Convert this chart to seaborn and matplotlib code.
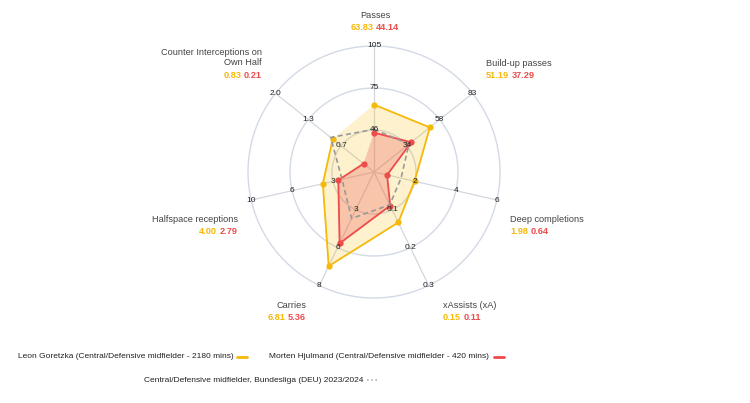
import numpy as np
import matplotlib
matplotlib.use('Agg')
import matplotlib.pyplot as plt
import seaborn as sns
from matplotlib.offsetbox import TextArea, HPacker, AnnotationBbox

# data
metrics = ['Passes', 'Build-up passes', 'Deep completions', 'xAssists (xA)',
           'Carries', 'Halfspace receptions', 'Counter Interceptions on\nOwn Half']
goretzka = [63.83, 51.19, 1.98, 0.15, 6.81, 4.00, 0.83]
hjulmand = [44.14, 37.29, 0.64, 0.11, 5.36, 2.79, 0.21]
league_avg = [46.5, 35.6, 1.32, 0.108, 3.77, 2.5, 0.87]
axis_min = [16.5, 9.5, 0.0, 0.03, 0.8, 0.0, 0.0]
axis_max = [105, 83, 6.0, 0.30, 8.05, 9.6, 1.98]
ring_labels = [['46', '75', '105'], ['34', '58', '83'], ['2', '4', '6'],
               ['0.1', '0.2', '0.3'], ['3', '6', '8'], ['3', '6', '10'],
               ['0.7', '1.3', '2.0']]
legend_labels = ['Leon Goretzka (Central/Defensive midfielder - 2180 mins)',
                 'Morten Hjulmand (Central/Defensive midfielder - 420 mins)',
                 'Central/Defensive midfielder, Bundesliga (DEU) 2023/2024']

# label layout in pixels from top-left: (x, name y, values y, alignment)
label_pos = [(375, 15, 27, 'center'), (486, 63, 75, 'left'),
             (510, 219, 231, 'left'), (443, 306, 318, 'left'),
             (306, 306, 318, 'right'), (238, 219, 231, 'right'),
             (262, 57.5, 75, 'right')]

YELLOW = '#F5B90A'
RED = '#EE4B4B'
GREY = '#999999'
W, H = 750, 403

sns.set_theme(style='white')
plt.rcParams['font.family'] = ['Liberation Sans', 'DejaVu Sans']

n = len(metrics)
theta = np.arange(n) * 2 * np.pi / n


def scale(vals):
    v = np.array(vals, dtype=float)
    return (v - np.array(axis_min)) / (np.array(axis_max) - np.array(axis_min))


def closed(a):
    return np.append(a, a[0])


# radar centre (374, 172) px, outer ring radius 126 px
cx, cy, R, rmax = 374, 172, 126, 1.03
half = R * rmax
fig = plt.figure(figsize=(7.5, 4.03), dpi=100)
ax = fig.add_axes([(cx - half) / W, (H - cy - half) / H, 2 * half / W, 2 * half / H],
                  projection='polar')
ax.set_theta_offset(np.pi / 2)
ax.set_theta_direction(-1)
ax.set_ylim(0, rmax)
ax.axis('off')

# grid: rings and spokes
tt = np.linspace(0, 2 * np.pi, 300)
for r in [1 / 3, 2 / 3, 1]:
    ax.plot(tt, np.full_like(tt, r), color='#d3dae5', lw=1.0, zorder=1)
for t in theta:
    ax.plot([t, t], [0, 1], color='#d3d7dd', lw=0.9, zorder=1)

# series
th = closed(theta)
g = closed(scale(goretzka))
h = closed(scale(hjulmand))
a = closed(scale(league_avg))
ax.fill(th, g, color=YELLOW, alpha=0.2, lw=0, zorder=2)
sns.lineplot(x=th, y=g, ax=ax, sort=False, color=YELLOW, lw=1.3,
             marker='o', markersize=4.5, markeredgewidth=0, zorder=4)
ax.fill(th, h, color=RED, alpha=0.27, lw=0, zorder=3)
sns.lineplot(x=th, y=h, ax=ax, sort=False, color=RED, lw=1.3,
             marker='o', markersize=4.5, markeredgewidth=0, zorder=5)
ax.plot(th, a, color=GREY, lw=1.2, ls=(0, (3, 2)), zorder=6)

# ring tick labels
for i, t in enumerate(theta):
    for k, lab in enumerate(ring_labels[i]):
        ax.text(t, (k + 1) / 3, lab, ha='center', va='center',
                fontsize=6, color='#222222', zorder=8)

# overlay axes in pixel units for labels and legend
ov = fig.add_axes([0, 0, 1, 1], facecolor='none')
ov.set_xlim(0, W)
ov.set_ylim(H, 0)
ov.axis('off')

xa_of = {'left': 0.0, 'center': 0.5, 'right': 1.0}
for i, (x, yn, yv, al) in enumerate(label_pos):
    ov.text(x, yn, metrics[i], ha=al, va='center', fontsize=6.6,
            color='#444444', multialignment=al, linespacing=1.15)
    vals = HPacker(children=[
        TextArea('%.2f' % goretzka[i], textprops=dict(fontsize=6.6, color=YELLOW,
                                                      fontweight='bold')),
        TextArea('%.2f' % hjulmand[i], textprops=dict(fontsize=6.6, color=RED,
                                                      fontweight='bold'))],
        pad=0, sep=2)
    ab = AnnotationBbox(vals, (x, yv), xycoords='data', frameon=False,
                        box_alignment=(xa_of[al], 0.5), annotation_clip=False,
                        pad=0)
    ov.add_artist(ab)

# legend at the bottom, centred at x=261 like the reference
fig.canvas.draw()
rend = fig.canvas.get_renderer()
leg_fs = 6.0


def text_w(s):
    t = ov.text(0, 0, s, fontsize=leg_fs)
    w = t.get_window_extent(renderer=rend).width
    t.remove()
    return w


w1, w2, w3 = [text_w(s) for s in legend_labels]
row1 = w1 + 4 + 10 + 22 + w2 + 5 + 10
x0 = 261 - row1 / 2
ov.text(x0, 357, legend_labels[0], ha='left', va='center', fontsize=leg_fs,
        color='#222222')
x0 += w1 + 4
ov.plot([x0, x0 + 10], [357, 357], color=YELLOW, lw=2)
x0 += 10 + 22
ov.text(x0, 357, legend_labels[1], ha='left', va='center', fontsize=leg_fs,
        color='#222222')
x0 += w2 + 5
ov.plot([x0, x0 + 10], [357, 357], color=RED, lw=2)

row2 = w3 + 3 + 11
x0 = 261 - row2 / 2
ov.text(x0, 380, legend_labels[2], ha='left', va='center', fontsize=leg_fs,
        color='#222222')
x0 += w3 + 3
ov.plot([x0, x0 + 11], [380, 380], color='#b0b0b0', lw=1.2, ls=(0, (1, 1.5)))

fig.savefig('out.png', dpi=100)
